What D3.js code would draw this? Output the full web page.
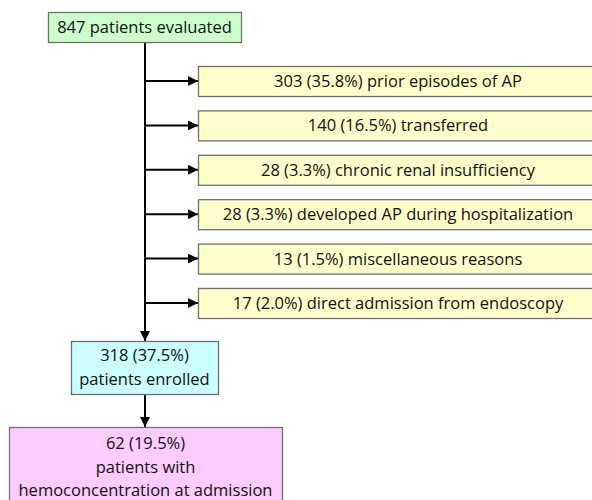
<!DOCTYPE html>
<html>
<head>
<meta charset="utf-8">
<script src="https://cdn.jsdelivr.net/npm/d3@7"></script>
<style>
  body { margin: 0; background: #fff; }
  text { font-family: "Open Sans", "Noto Sans", sans-serif; fill: #111; }
</style>
</head>
<body>
<div id="flow"></div>
<script>
const width = 592;
const height = 500;

// flow data
const startLabel = ["847 patients evaluated"];
const exclusions = [
    "303 (35.8%) prior episodes of AP",
    "140 (16.5%) transferred",
    "28 (3.3%) chronic renal insufficiency",
    "28 (3.3%) developed AP during hospitalization",
    "13 (1.5%) miscellaneous reasons",
    "17 (2.0%) direct admission from endoscopy"
];
const enrolledLabel = ["318 (37.5%)", "patients enrolled"];
const finalLabel = ["62 (19.5%)", "patients with", "hemoconcentration at admission"];

const svg = d3.select("#flow")
    .append("svg")
    .attr("width", width)
    .attr("height", height);

svg.append("defs").append("marker")
    .attr("id", "arrow")
    .attr("viewBox", "0 0 10 10")
    .attr("refX", 10)
    .attr("refY", 5)
    .attr("markerWidth", 5)
    .attr("markerHeight", 5)
    .attr("markerUnits", "strokeWidth")
    .attr("orient", "auto")
    .append("path")
    .attr("d", "M0,0 L10,5 L0,10 z")
    .attr("fill", "#000");

const y = d3.scaleBand()
    .domain(exclusions)
    .range([66, 318])
    .paddingInner(0.324)
    .paddingOuter(0);

const spineX = 145;
const exclX = 198;
const fontSize = 16.5;

function box(x, yTop, w, h, fill, lines, firstOffset, lineH) {
    svg.append("rect")
        .attr("x", x + 0.5)
        .attr("y", yTop + 0.5)
        .attr("width", w)
        .attr("height", h)
        .attr("fill", fill)
        .attr("stroke", "#707070")
        .attr("stroke-width", 1.3);
    const cx = x + w / 2;
    svg.selectAll(null)
        .data(lines)
        .enter()
        .append("text")
        .attr("x", cx)
        .attr("y", (d, i) => yTop + firstOffset + i * lineH)
        .attr("text-anchor", "middle")
        .attr("font-size", fontSize)
        .text(d => d);
}

// spine
svg.append("line")
    .attr("x1", spineX).attr("x2", spineX)
    .attr("y1", 42).attr("y2", 341)
    .attr("stroke", "#000").attr("stroke-width", 2)
    .attr("marker-end", "url(#arrow)");

// branch arrows
svg.selectAll(".branch")
    .data(exclusions)
    .enter()
    .append("line")
    .attr("class", "branch")
    .attr("x1", spineX)
    .attr("x2", exclX)
    .attr("y1", d => y(d) + y.bandwidth() / 2)
    .attr("y2", d => y(d) + y.bandwidth() / 2)
    .attr("stroke", "#000").attr("stroke-width", 2)
    .attr("marker-end", "url(#arrow)");

// enrolled -> final arrow
svg.append("line")
    .attr("x1", spineX).attr("x2", spineX)
    .attr("y1", 394).attr("y2", 427)
    .attr("stroke", "#000").attr("stroke-width", 2)
    .attr("marker-end", "url(#arrow)");

box(48, 12, 193, 30, "#ccffcc", startLabel, 21, 0);

exclusions.forEach(d => {
    box(exclX, y(d), 400, y.bandwidth(), "#ffffcc", [d], 21, 0);
});

box(71, 341, 147, 53, "#ccffff", enrolledLabel, 20, 23.5);
box(9, 427, 273, 90, "#ffccff", finalLabel, 22, 23.5);
</script>
</body>
</html>
